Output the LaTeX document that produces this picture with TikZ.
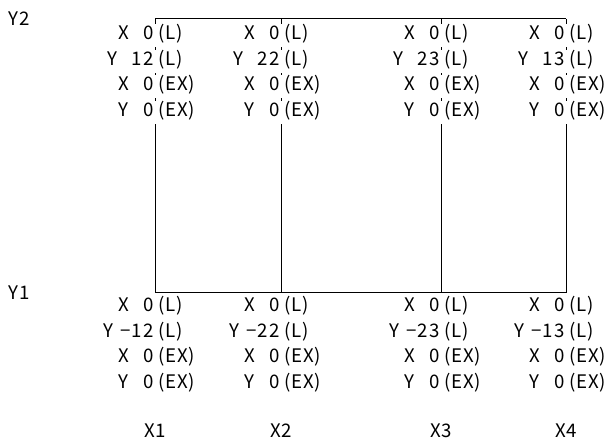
\documentclass[tikz,border=0pt]{standalone}
\usepackage{fontspec}
\setmainfont[LetterSpace=5,WordSpace=1.4]{Noto Sans CJK JP}

\begin{document}
\begin{tikzpicture}[
  x=0.75pt, y=-0.75pt,
  line width=0.75pt,
  font=\fontsize{14}{16}\selectfont,
  numpart/.style={
     anchor=base east,
     xshift=1.2pt,
     fill=white,
     text height=11pt,
     text depth=4pt,
     inner xsep=2pt,
     inner ysep=1pt
  },
  tagpart/.style={
     numpart,
     anchor=base west,
     xshift=-1.2pt
  },
  axislabel/.style={anchor=base, inner sep=0pt}
]
   \useasboundingbox (0,0) rectangle (606,441);

   % The end points of the lines
   \foreach \n/\x in {1/155,2/281,3/441,4/566} {
      \coordinate (top\n) at (\x,19);
      \coordinate (bot\n) at (\x,293);
   }

   % The frame
   \draw (top1) -- (top4);
   \draw (bot1) -- (bot4);
   \foreach \n in {1,...,4}
      \draw (top\n) -- (bot\n);

   % The values at the Y2 end
   \foreach \n/\x/\v in {1/155/12,2/281/22,3/441/23,4/566/13} {
      \node[numpart] (tx\n)  at (\x,40)  {X~~0};
      \node[tagpart] (txl\n) at (\x,40)  {(L)};
      \node[numpart] (ty\n)  at (\x,66)  {Y~~\v};
      \node[tagpart] (tyl\n) at (\x,66)  {(L)};
      \node[numpart] (tex\n) at (\x,91)  {X~~0};
      \node[tagpart] (texl\n) at (\x,91) {(EX)};
      \node[numpart] (tey\n) at (\x,117) {Y~~0};
      \node[tagpart] (teyl\n) at (\x,117) {(EX)};
   }

   % The values at the Y1 end
   \foreach \n/\x/\v in {1/155/12,2/281/22,3/441/23,4/566/13} {
      \node[numpart] (bx\n)  at (\x,311)  {X~~0};
      \node[tagpart] (bxl\n) at (\x,311)  {(L)};
      \node[numpart] (by\n)  at (\x,337)  {Y~−\v};
      \node[tagpart] (byl\n) at (\x,337)  {(L)};
      \node[numpart] (bex\n) at (\x,362)  {X~~0};
      \node[tagpart] (bexl\n) at (\x,362) {(EX)};
      \node[numpart] (bey\n) at (\x,388)  {Y~~0};
      \node[tagpart] (beyl\n) at (\x,388) {(EX)};
      \node[axislabel] (col\n) at (\x,437) {X\n};
   }

   \node[axislabel,anchor=base west] (y2) at (8,26)  {Y2};
   \node[axislabel,anchor=base west] (y1) at (8,300) {Y1};
\end{tikzpicture}
\end{document}
